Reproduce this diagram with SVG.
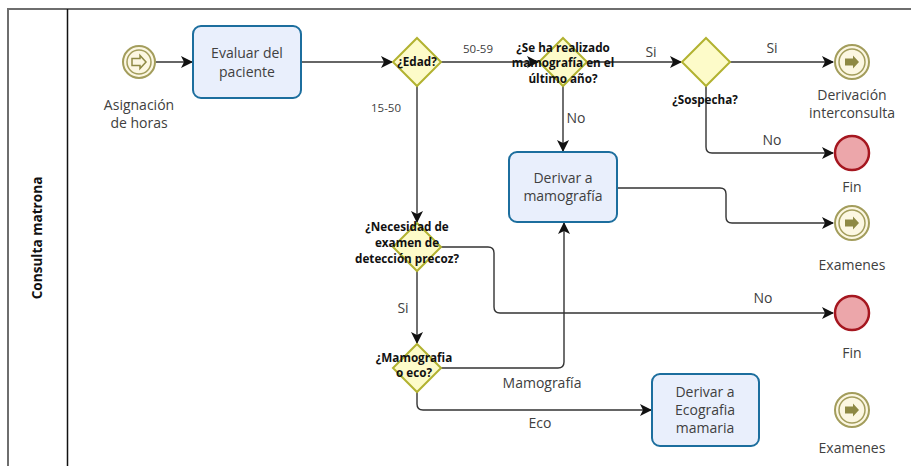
<svg xmlns="http://www.w3.org/2000/svg" width="911" height="466" viewBox="0 0 911 466">
  <defs>
    <marker id="arrow" viewBox="0 0 12 12" refX="11" refY="6" markerWidth="12" markerHeight="12" markerUnits="userSpaceOnUse" orient="auto">
      <path d="M0,0 L12,6 L0,12 L3,6 Z" fill="#111"/>
    </marker>
    <style>
      .frame { fill: none; stroke: #6e6e6e; stroke-width: 2; }
      .divider { stroke: #111; stroke-width: 1.5; }
      .task { fill: #e9effc; stroke: #1c6e9e; stroke-width: 2; }
      .gw { fill: #fdfbc9; stroke: #b2b230; stroke-width: 2; }
      .ev-ring { fill: #fcf7e2; stroke: #a39d5c; stroke-width: 2; }
      .ev-inner { fill: none; stroke: #a39d5c; stroke-width: 1.5; }
      .ev-arrow { fill: #8e8944; }
      .ev-arrow-open { fill: none; stroke: #8e8944; stroke-width: 1.5; }
      .end { fill: #eca6aa; stroke: #a5161f; stroke-width: 2.5; }
      .flow { fill: none; stroke: #333; stroke-width: 1.4; marker-end: url(#arrow); }
      .t { font-family: "Open Sans", "Noto Sans", "DejaVu Sans", sans-serif; font-size: 14px; fill: #404040; text-anchor: middle; }
      .lbl { font-family: "Open Sans", "Noto Sans", "DejaVu Sans", sans-serif; font-size: 14px; fill: #404040; text-anchor: middle; }
      .sm { font-family: "Open Sans", "Noto Sans", "DejaVu Sans", sans-serif; font-size: 11.5px; fill: #404040; text-anchor: middle; }
      .q { font-family: "Open Sans", "Noto Sans", "DejaVu Sans", sans-serif; font-size: 11.7px; font-weight: bold; fill: #111; text-anchor: middle; }
      .lane { font-family: "Open Sans", "Noto Sans", "DejaVu Sans", sans-serif; font-size: 13.6px; font-weight: bold; fill: #111; text-anchor: middle; }
    </style>
  </defs>

  <rect width="911" height="466" fill="#ffffff"/>

  <!-- pool frame and lane header -->
  <g id="pool">
    <path class="frame" d="M8,470 L8,9 L915,9"/>
    <line class="divider" x1="67.5" y1="9" x2="67.5" y2="470"/>
    <text class="lane" transform="translate(42,238) rotate(-90)">Consulta matrona</text>
  </g>

  <!-- sequence flows -->
  <g id="connectors">
    <path class="flow" d="M156,62 L192,62"/>
    <path class="flow" d="M301,62 L392,62"/>
    <path class="flow" d="M441,62 L538,62"/>
    <path class="flow" d="M587,62 L681,62"/>
    <path class="flow" d="M730,62 L833,62"/>
    <path class="flow" d="M706,86 L706,147 Q706,153 712,153 L833,153"/>
    <path class="flow" d="M563,86 L563,151"/>
    <path class="flow" d="M617,188 L720,188 Q726,188 726,194 L726,217 Q726,223 732,223 L833,223"/>
    <path class="flow" d="M417,86 L417,222"/>
    <path class="flow" d="M441,247 L488,247 Q494,247 494,253 L494,307 Q494,313 500,313 L833,313"/>
    <path class="flow" d="M417,271 L417,343"/>
    <path class="flow" d="M441,368 L558,368 Q564,368 564,362 L564,223"/>
    <path class="flow" d="M417,392 L417,404 Q417,410 423,410 L651,410"/>
    <text class="sm" x="478" y="53">50-59</text>
    <text class="sm" x="386" y="112">15-50</text>
    <text class="lbl" x="651" y="57">Si</text>
    <text class="lbl" x="772" y="53">Si</text>
    <text class="lbl" x="772" y="145">No</text>
    <text class="lbl" x="576" y="123">No</text>
    <text class="lbl" x="763" y="303">No</text>
    <text class="lbl" x="403" y="313">Si</text>
    <text class="lbl" x="542" y="388">Mamografía</text>
    <text class="lbl" x="540" y="428">Eco</text>
  </g>

  <!-- start event -->
  <g id="start">
    <circle class="ev-ring" cx="139" cy="62" r="16"/>
    <circle class="ev-inner" cx="139" cy="62" r="12"/>
    <path class="ev-arrow-open" d="M132,58.5 L140,58.5 L140,55.5 L146,62 L140,68.5 L140,65.5 L132,65.5 Z"/>
    <text class="t" x="139" y="110">Asignación</text>
    <text class="t" x="139" y="128">de horas</text>
  </g>

  <!-- task: evaluate patient -->
  <g id="evaluar">
    <rect class="task" x="193" y="26" width="108" height="72" rx="8"/>
    <text class="t" x="247" y="58">Evaluar del</text>
    <text class="t" x="247" y="77">paciente</text>
  </g>

  <!-- gateway: age -->
  <g id="gw-edad">
    <path class="gw" d="M417,38 L441,62 L417,86 L393,62 Z"/>
    <text class="q" x="417" y="66">¿Edad?</text>
  </g>

  <!-- gateway: mammogram in the last year -->
  <g id="gw-ultimo">
    <path class="gw" d="M563,38 L587,62 L563,86 L539,62 Z"/>
    <text class="q" x="563" y="52">¿Se ha realizado</text>
    <text class="q" x="563" y="67">mamografía en el</text>
    <text class="q" x="563" y="83">último año?</text>
  </g>

  <!-- gateway: suspicion -->
  <g id="gw-sospecha">
    <path class="gw" d="M706,38 L730,62 L706,86 L682,62 Z"/>
    <text class="q" x="705" y="104">¿Sospecha?</text>
  </g>

  <!-- event: referral -->
  <g id="derivacion">
    <circle class="ev-ring" cx="852" cy="62" r="17"/>
    <circle class="ev-inner" cx="852" cy="62" r="13"/>
    <path class="ev-arrow" d="M845,58.5 L853,58.5 L853,55.5 L859,62 L853,68.5 L853,65.5 L845,65.5 Z"/>
    <text class="t" x="852" y="100">Derivación</text>
    <text class="t" x="852" y="118">interconsulta</text>
  </g>

  <!-- end: no suspicion -->
  <g id="fin-1">
    <circle class="end" cx="852" cy="153" r="17"/>
    <text class="t" x="852" y="192">Fin</text>
  </g>

  <!-- task: refer to mammography -->
  <g id="derivar-mamografia">
    <rect class="task" x="509" y="152" width="108" height="70" rx="8"/>
    <text class="t" x="563" y="183">Derivar a</text>
    <text class="t" x="563" y="201">mamografía</text>
  </g>

  <!-- event: exams -->
  <g id="examenes-1">
    <circle class="ev-ring" cx="852" cy="223" r="17"/>
    <circle class="ev-inner" cx="852" cy="223" r="13"/>
    <path class="ev-arrow" d="M845,219.5 L853,219.5 L853,216.5 L859,223 L853,229.5 L853,226.5 L845,226.5 Z"/>
    <text class="t" x="852" y="270">Examenes</text>
  </g>

  <!-- gateway: early detection need -->
  <g id="gw-necesidad">
    <path class="gw" d="M417,223 L441,247 L417,271 L393,247 Z"/>
    <text class="q" x="407" y="231">¿Necesidad de</text>
    <text class="q" x="407" y="247">examen de</text>
    <text class="q" x="407" y="263">detección precoz?</text>
  </g>

  <!-- end: no need -->
  <g id="fin-2">
    <circle class="end" cx="852" cy="313" r="17"/>
    <text class="t" x="852" y="358">Fin</text>
  </g>

  <!-- gateway: mammography or ultrasound -->
  <g id="gw-mamo-eco">
    <path class="gw" d="M417,344 L441,368 L417,392 L393,368 Z"/>
    <text class="q" x="414" y="362">¿Mamografia</text>
    <text class="q" x="414" y="377">o eco?</text>
  </g>

  <!-- task: refer to breast ultrasound -->
  <g id="derivar-ecografia">
    <rect class="task" x="652" y="374" width="107" height="72" rx="8"/>
    <text class="t" x="705" y="397">Derivar a</text>
    <text class="t" x="705" y="415">Ecografia</text>
    <text class="t" x="705" y="433">mamaria</text>
  </g>

  <!-- event: exams (ultrasound) -->
  <g id="examenes-2">
    <circle class="ev-ring" cx="852" cy="410" r="17"/>
    <circle class="ev-inner" cx="852" cy="410" r="13"/>
    <path class="ev-arrow" d="M845,406.5 L853,406.5 L853,403.5 L859,410 L853,416.5 L853,413.5 L845,413.5 Z"/>
    <text class="t" x="852" y="453">Examenes</text>
  </g>
</svg>
